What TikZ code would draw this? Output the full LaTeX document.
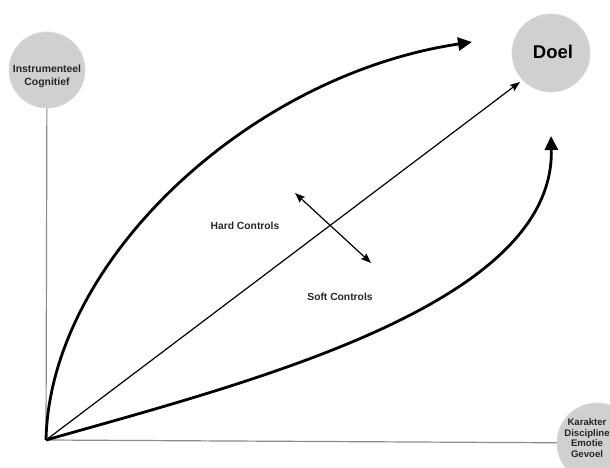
\documentclass[tikz,border=0pt]{standalone}
\usepackage{fontspec}
\setmainfont{Liberation Sans}
\usetikzlibrary{arrows.meta}
\definecolor{bubble}{RGB}{208,208,208}
\definecolor{bubbleedge}{RGB}{218,218,218}
\definecolor{axisgray}{RGB}{140,140,140}
\tikzset{
  bubble/.style={circle, fill=bubble, draw=bubbleedge, line width=0.8pt, minimum size=#1, inner sep=0pt},
  axisline/.style={draw=axisgray, line width=1.2pt},
  bigarrow/.style={line width=2.8pt, -{Triangle[length=14pt, width=13pt]}},
  thinarrow/.style={line width=1.2pt, -{Stealth[length=10pt, width=7.5pt, inset=1.5pt]}},
  twoway/.style={line width=1.2pt, {Stealth[length=10pt, width=7.5pt, inset=1.5pt]}-{Stealth[length=10pt, width=7.5pt, inset=1.5pt]}},
  lbl/.style={font=\fontsize{10.3}{12}\selectfont\bfseries, text=black!85},
}
\begin{document}
\begin{tikzpicture}[x=1pt, y=-1pt]
\useasboundingbox (0,0) rectangle (610,468);

% the three circles
\node[bubble=76pt] (instr) at (47,70) {};
\node[bubble=78pt] (doel) at (551,53) {};
\node[bubble=80pt] (kar) at (597,443) {};

\node[align=center, font=\fontsize{10.4}{13}\selectfont\bfseries, text=black!85] (instrtxt) at (47,76) {Instrumenteel\\Cognitief};
\node[font=\fontsize{18.5}{20}\selectfont\bfseries] (doeltxt) at (553,52) {Doel};
\node[align=center, font=\fontsize{9.6}{10.4}\selectfont\bfseries, text=black!85] (kartxt) at (587,438) {Karakter\\Discipline\\Emotie\\Gevoel};

% axes
\coordinate (o) at (46,440);
\draw[axisline] (o) -- (instr);
\draw[axisline] (o) -- (kar);

% diagonal towards the goal
\coordinate (diagend) at (520,82);
\draw[thinarrow] (o) -- (diagend);

% curved paths
\coordinate (topend) at (472,42);
\coordinate (botend) at (551,136);
\draw[bigarrow] (o) .. controls (50,260) and (250,75) .. (topend);
\draw[bigarrow] (o) .. controls (250,382) and (555,305) .. (botend);

% trade-off between hard and soft controls
\coordinate (xa) at (295,193);
\coordinate (xb) at (371,263);
\draw[twoway] (xa) -- (xb);

\node[lbl] (hard) at (245,226) {Hard Controls};
\node[lbl] (soft) at (340,297) {Soft Controls};
\end{tikzpicture}
\end{document}
